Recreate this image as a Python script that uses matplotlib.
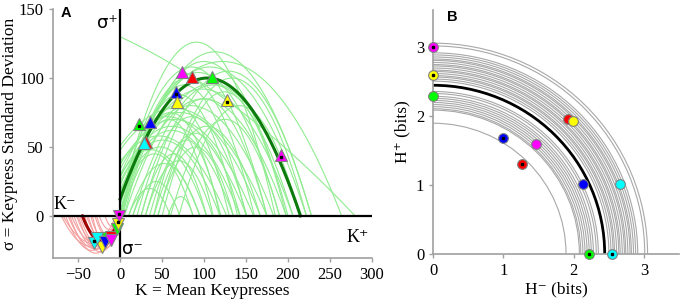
import numpy as np
import matplotlib
matplotlib.use("Agg")
import matplotlib.pyplot as plt
from matplotlib.patches import Arc

SERIF = ['Liberation Serif', 'DejaVu Serif']
plt.rcParams['font.family'] = SERIF
plt.rcParams['axes.unicode_minus'] = True

# ---- panel A data: quadratic fits, given as (left root, right root, peak) ----
green_left = [-3, -2, 0, -5, 0, 2, -4, 0, 3, 0, 5, -10, -8, 0, -15, -25, -30, -40,
              -20, -12, -35, -18, -8, -22, -5, -20, -709, 57, 30, 35, 45, 20, 40, 25,
              60, 50, 15, 70, 45, 30, 10, 15, 10, -45, 5, 25, 40]
green_right = [185, 228, 200, 175, 160, 150, 190, 140, 130, 120, 111, 206, 222, 198,
               183, 167, 159, 151, 143, 135, 127, 119, 103, 95, 87, 264, 280, 87, 110,
               143, 135, 151, 167, 175, 190, 198, 206, 214, 222, 228, 95, 71, 60, 175,
               214, 103, 119]
green_peak = [126, 119, 112, 108, 100, 95, 104, 88, 80, 75, 70, 92, 108, 85, 80, 75,
              70, 72, 65, 62, 58, 55, 50, 48, 45, 112, 160, 14, 40, 60, 50, 72, 65, 85,
              70, 90, 95, 80, 100, 105, 38, 25, 20, 78, 96, 45, 55]
main_pos = (-7, 215, 100)

red_left = [-70, -65, -60, -55, -52, -50, -48, -42, -40, -38, -35, -33, -30, -58,
            -62, -28, -68, -25, -18]
red_right = [0, -2, 2, 0, -3, 3, 0, -2, 2, 0, -3, 1, 0, -5, 4, -2, 5, 0, 0]
red_depth = [22, 25, 27, 24, 20, 26, 22, 24, 18, 21, 17, 23, 15, 19, 24, 14, 20, 10, 8]
main_neg = (-45, 1, 18)

tri_colors = ['magenta', 'red', 'lime', 'blue', 'yellow', 'yellow', 'lime', 'blue',
              'red', 'cyan', 'magenta']
tri_k = [74, 86, 110, 66, 68, 127, 23, 36, 31, 28, 192]
tri_s = [104.5, 100.6, 100.8, 89.7, 82.9, 84.1, 66.9, 68.4, 53.3, 52.8, 44.1]
tri_dot = [0, 0, 0, 1, 0, 1, 1, 0, 0, 0, 1]

neg_colors = ['cyan', 'lime', 'red', 'yellow', 'cyan', 'blue', 'magenta', 'lime',
              'yellow', 'magenta']
neg_k = [-31.7, -16, -10.7, -21.8, -27, -17.9, -11, -4, -2.8, -0.8]
neg_s = [-19.9, -16, -15, -22.8, -16, -18.7, -17.5, -9.7, -6, 0]
neg_dot = [1, 0, 0, 0, 0, 0, 0, 0, 1, 1]

# ---- panel B data ----
arc_radii = [1.89, 2.08, 2.10, 2.13, 2.16, 2.19, 2.22, 2.25, 2.28, 2.32, 2.35,
             2.50, 2.53, 2.56, 2.58, 2.61, 2.64, 2.66, 2.69, 2.72, 2.74,
             2.77, 2.80, 2.82, 2.85, 2.88, 2.91, 3.01, 3.05]
main_radius = 2.44

pt_colors = ['magenta', 'yellow', 'lime', 'red', 'yellow', 'blue', 'magenta', 'red',
             'blue', 'cyan', 'lime', 'cyan']
pt_hneg = [0, 0, 0, 1.92, 1.99, 1.0, 1.46, 1.27, 2.13, 2.66, 2.21, 2.55]
pt_hpos = [2.99, 2.59, 2.28, 1.95, 1.92, 1.68, 1.59, 1.30, 1.01, 1.01, 0, 0]
pt_dot = [1, 1, 0, 0, 0, 1, 0, 1, 0, 0, 1, 1]

GRAY = '#a0a0a0'
EDGE = '#808080'


def parabola(r1, r2, h, positive=True, n=300):
    # quadratic through both roots with extreme value h, kept in its quadrant
    if positive:
        k = np.linspace(max(r1, 0), r2, n)
    else:
        k = np.linspace(r1, min(r2, 0), n)
    s = 4.0 * h * (k - r1) * (r2 - k) / (r2 - r1) ** 2
    if not positive:
        s = -s
    return k, s


def style_axes(ax):
    for side in ['top', 'right']:
        ax.spines[side].set_visible(False)
    for side in ['left', 'bottom']:
        ax.spines[side].set_color(GRAY)
        ax.spines[side].set_linewidth(1.2)
    ax.tick_params(colors=GRAY, labelcolor='black', length=3, width=1, labelsize=12)
    for lab in ax.get_xticklabels() + ax.get_yticklabels():
        lab.set_family(SERIF)


fig = plt.figure(figsize=(6.8, 3.01), dpi=100)

# ---------------- panel A ----------------
axA = fig.add_axes([0.0779, 0.1429, 0.469, 0.827])
for r1, r2, h in zip(green_left, green_right, green_peak):
    k, s = parabola(r1, r2, h)
    axA.plot(k, s, color='#90ec90', lw=0.8)
for r1, r2, h in zip(red_left, red_right, red_depth):
    k, s = parabola(r1, r2, h, positive=False)
    axA.plot(k, s, color='#f4a0a0', lw=0.8)
k, s = parabola(*main_pos)
axA.plot(k, s, color='#0d7a0d', lw=2.2)
k, s = parabola(*main_neg, positive=False)
axA.plot(k, s, color='#a00000', lw=2.2)

axA.axhline(0, color='black', lw=1.6)
axA.axvline(0, color='black', lw=1.6)

for c, k, s, d in zip(tri_colors, tri_k, tri_s, tri_dot):
    axA.plot(k, s, marker='^', ms=8.5, mfc=c, mec=EDGE, mew=0.8, ls='none', zorder=5)
    if d:
        axA.plot(k, s - 1.5, marker='s', ms=1.5, color='black', ls='none', zorder=6)
for c, k, s, d in zip(neg_colors, neg_k, neg_s, neg_dot):
    axA.plot(k, s, marker='v', ms=8.5, mfc=c, mec=EDGE, mew=0.8, ls='none',
             zorder=5, clip_on=False)
    if d:
        axA.plot(k, s + 1.5, marker='s', ms=1.5, color='black', ls='none', zorder=6)

axA.set_xlim(-80, 300)
axA.set_ylim(-30.5, 150)
axA.set_xticks([-50, 0, 50, 100, 150, 200, 250, 300])
axA.set_yticks([0, 50, 100, 150])
style_axes(axA)
axA.set_xlabel('K = Mean Keypresses', fontsize=12.5, labelpad=0)
axA.set_ylabel('σ = Keypress Standard Deviation', fontsize=12.5, labelpad=1)

axA.text(-3, 140, 'σ⁺', ha='right', va='center', fontsize=13, family=['DejaVu Sans'])
axA.text(2, -24, 'σ⁻', ha='left', va='center', fontsize=13, family=['DejaVu Sans'])
axA.text(-79, 2, 'K⁻', ha='left', va='bottom', fontsize=13)
axA.text(297, -16, 'K⁺', ha='right', va='center', fontsize=13)
axA.text(-71, 152, 'A', ha='left', va='top', fontsize=10.5, fontweight='bold',
         family=['Liberation Sans'])

# ---------------- panel B ----------------
axB = fig.add_axes([0.637, 0.1571, 0.3618, 0.8096])
for r in arc_radii:
    axB.add_patch(Arc((0, 0), 2 * r, 2 * r, theta1=0, theta2=90, color='#a8a8a8', lw=0.8))
axB.add_patch(Arc((0, 0), 2 * main_radius, 2 * main_radius, theta1=0, theta2=90,
                  color='black', lw=2))

for c, x, y, d in zip(pt_colors, pt_hneg, pt_hpos, pt_dot):
    axB.plot(x, y, marker='o', ms=7, mfc=c, mec=EDGE, mew=0.8, ls='none',
             zorder=5, clip_on=False)
    if d:
        axB.plot(x, y, marker='s', ms=1.5, color='black', ls='none', zorder=6,
                 clip_on=False)

axB.set_xlim(0, 3.5)
axB.set_ylim(0, 3.53)
axB.set_xticks([0, 1, 2, 3])
axB.set_yticks([0, 1, 2, 3])
style_axes(axB)
axB.set_xlabel('H⁻ (bits)', fontsize=12.5, labelpad=2)
axB.set_ylabel('H⁺ (bits)', fontsize=12.5, labelpad=4)
axB.text(0.2, 3.53, 'B', ha='left', va='top', fontsize=10.5, fontweight='bold',
         family=['Liberation Sans'])

fig.savefig('out.png', dpi=100)
